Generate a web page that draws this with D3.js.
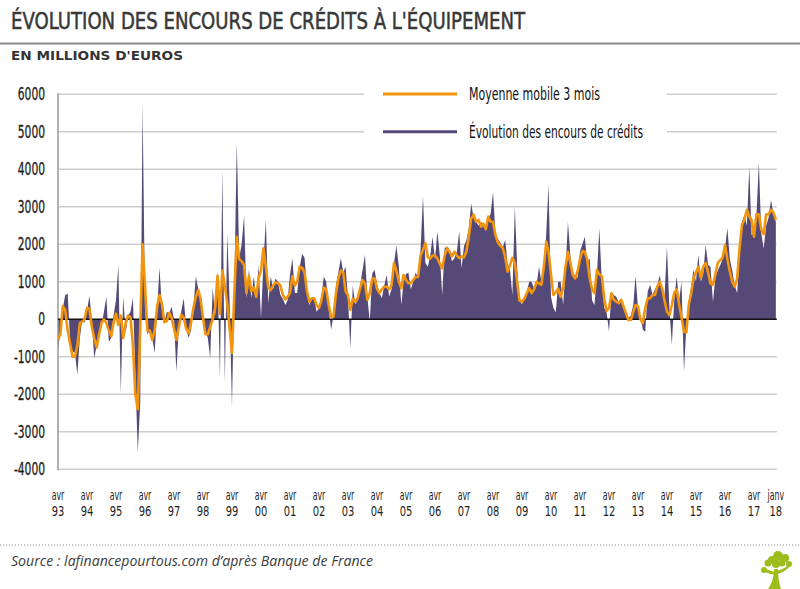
<!DOCTYPE html>
<html>
<head>
<meta charset="utf-8">
<script src="https://cdn.jsdelivr.net/npm/d3@7"></script>
<style>
  body { margin: 0; background: #fff; }
  svg { display: block; font-family: "DejaVu Sans Condensed", "Liberation Sans Narrow", sans-serif; }
</style>
</head>
<body>
<div id="chart"></div>
<script>
// Variation mensuelle des encours (millions d'euros), avr 93 -> janv 18
const encours = [
    -850, -300, 300, 650, 680, -600, -850, -900, -1480, -500, 0, -100,       // 93
    200, 630, 0, -1040, -700, -350, -150, 200, 600, -600, -500, 100,          // 94
    500, 1450, -1970, 600, -370, 100, 200, 560, -1500, -3550, -2200, 5760,    // 95
    300, -400, -300, -500, -900, 300, 1380, 200, -100, 200, 150, 340,         // 96
    0, -1400, -200, 200, 560, -200, -500, -300, 300, 1140, 800, 560,          // 97
    0, -300, -500, -1040, 850, 100, 1300, -1570, 4000, -1700, 2290, 560,      // 98
    -2330, 900, 4720, 1630, 2000, 2760, 560, 1330, 560, 1140, 560, 1450,      // 99
    30, 1500, 2650, 430, 1150, 800, 1090, 1000, 650, 550, 380, 500,           // 00
    1180, 1630, 700, 700, 1400, 1740, 1650, 800, 380, 560, 560, 200,          // 01
    300, 600, 1140, 1000, 300, -280, 100, 900, 1250, 1630, 1250, 1400,        // 02
    600, -770, 900, 400, 500, 900, 1300, 1720, 600, -50, 1230, 1320,          // 03
    950, 700, 560, 900, 1180, 600, 800, 1500, 1960, 1400, 380, 1000,         // 04
    1200, 1250, 800, 1000, 1250, 1100, 1850, 3290, 1500, 1400, 1700, 2200,    // 05
    1600, 2340, 1700, 650, 1900, 1940, 1800, 1550, 1620, 1800, 2340, 1360,    // 06
    1950, 2100, 2430, 3090, 2700, 2600, 2500, 2600, 2500, 2450, 2700, 2800,   // 07
    3390, 2300, 2150, 2050, 1900, 2120, 1500, 1300, 650, 3000, 1300, 500,     // 08
    400, 600, 750, 1000, 1000, 800, 900, 1400, 1000, 1300, 2300, 3600,        // 09
    600, 300, 190, 1000, 1000, 380, 1300, 2600, 1700, 1200, 1180, 1100,       // 10
    1800, 2000, 2200, 1500, 1630, 500, 380, 1200, 2430, 1000, 300, 200,       // 11
    -330, 740, 640, 600, 450, 560, 380, 200, 30, 100, 380, 1160,              // 12
    300, 100, -280, -330, 740, 920, 650, 800, 920, 1180, 700, 600,            // 13
    1940, 300, -680, 500, 1140, 500, 1000, -1400, -200, 500, 900, 1320,       // 14
    1000, 1720, 1000, 1200, 1980, 1450, 1400, 470, 1100, 1300, 1450, 1600,    // 15
    1900, 2430, 1600, 1300, 900, 700, 1700, 2600, 2780, 2500, 4070, 2250,     // 16
    2300, 2700, 4190, 2300, 1890, 2500, 2700, 3180, 2800, 2600                // 17
]

// Moyenne mobile 3 mois
const moyenne = [
    -520, -400, 350, 250, -300, -650, -1000, -1000, -700, -100, -60, 0,
    300, 280, -200, -500, -750, -400, -100, 0, -100, -300, -450, -100,
    150, -150, 100, -500, -100, 100, 50, -700, -2000, -2400, -200, 2000,
    900, -300, -300, -550, -300, 350, 650, 400, -80, -50, 170, 50,
    -250, -550, -200, 120, 50, -250, -370, -100, 300, 600, 780, 550,
    50, -400, -400, -200, 0, 300, 1160, 150, 1300, 900, 400, -200,
    -900, 700, 2200, 1600, 1550, 1450, 700, 1150, 750, 850, 600, 1100,
    1300, 1890, 1400, 850, 780, 900, 980, 960, 900, 650, 530, 600,
    700, 1150, 900, 1000, 1400, 1370, 1250, 750, 470, 560, 560, 380,
    300, 500, 850, 800, 380, 70, 70, 700, 1090, 1300, 1250, 750,
    650, 250, 550, 470, 560, 820, 1050, 950, 520, 700, 1090, 1090,
    810, 700, 800, 870, 870, 800, 900, 1500, 1300, 1000, 830, 1180,
    1050, 960, 960, 1050, 1130, 1130, 1700, 1850, 2030, 1650, 1620, 1700,
    1700, 1620, 1480, 1360, 1700, 1900, 1800, 1680, 1800, 1700, 1630, 1680,
    1650, 1800, 2200, 2690, 2790, 2600, 2650, 2470, 2550, 2400, 2740, 2600,
    2600, 2250, 2050, 1960, 1900, 1670, 1270, 1450, 1640, 1500, 950, 500,
    470, 550, 700, 830, 700, 800, 1000, 950, 920, 1400, 2070, 1800,
    1200, 650, 720, 820, 600, 830, 1400, 1800, 1500, 1180, 1090, 1270,
    1600, 1820, 1800, 1600, 1100, 800, 700, 1320, 1200, 1150, 550, 220,
    300, 690, 520, 470, 430, 520, 340, 160, -20, -20, 200, 380,
    350, 0, -100, 300, 560, 560, 650, 650, 870, 1000, 800, 500,
    200, 115, 380, 700, 800, 400, 50, -330, -350, 400, 700, 1100,
    1250, 1400, 1100, 1400, 1500, 1250, 950, 920, 1200, 1500, 1580, 1640,
    1980, 1600, 1270, 1000, 870, 1100, 1900, 2520, 2650, 2920, 2740, 2650,
    2200, 2800, 2800, 2400, 2270, 2800, 2800, 2920, 2850, 2650
]

const yTicks = [-4000, -3000, -2000, -1000, 0, 1000, 2000, 3000, 4000, 5000, 6000]
const yearLabels = ["93", "94", "95", "96", "97", "98", "99", "00", "01", "02", "03", "04",
    "05", "06", "07", "08", "09", "10", "11", "12", "13", "14", "15", "16", "17"]
const lastLabel = ["janv", "18"]

const width = 800
const height = 589
const purple = "#554978"
const orange = "#f2950c"

const firstMonth = new Date(1993, 3, 1)
const months = encours.map((d, i) => d3.timeMonth.offset(firstMonth, i))

const x = d3.scaleTime()
    .domain([new Date(1993, 3, 1), new Date(2017, 3, 1)])
    .range([58, 754])
const y = d3.scaleLinear()
    .domain([-4000, 6000])
    .range([469.3, 94.3])

const svg = d3.select("#chart").append("svg")
    .attr("width", width)
    .attr("height", height)

// titre
svg.append("text")
    .attr("x", 11).attr("y", 28.5)
    .attr("font-size", 22.5)
    .attr("fill", "#383838")
    .attr("stroke", "#383838")
    .attr("stroke-width", 0.5)
    .attr("textLength", 514)
    .attr("lengthAdjust", "spacingAndGlyphs")
    .text("ÉVOLUTION DES ENCOURS DE CRÉDITS À L'ÉQUIPEMENT")

svg.append("line")
    .attr("x1", 0).attr("x2", width)
    .attr("y1", 43.5).attr("y2", 43.5)
    .attr("stroke", "#8c8c8c")
    .attr("stroke-width", 2)

svg.append("text")
    .attr("x", 11).attr("y", 60)
    .attr("font-size", 11.5)
    .attr("font-weight", "bold")
    .attr("fill", "#333")
    .attr("textLength", 172)
    .attr("lengthAdjust", "spacingAndGlyphs")
    .text("EN MILLIONS D'EUROS")

// grille
const xEnd = x(months[months.length - 1])
svg.append("g")
    .selectAll("line")
    .data(yTicks.filter(d => d !== 0))
    .join("line")
    .attr("x1", 58).attr("x2", xEnd + 1)
    .attr("y1", d => y(d)).attr("y2", d => y(d))
    .attr("stroke", "#cdcdcd")
    .attr("stroke-width", 1.5)

// libellés axe y
svg.append("g")
    .selectAll("text")
    .data(yTicks)
    .join("text")
    .attr("transform", d => `translate(45,${y(d) + 6}) scale(0.7,1)`)
    .attr("text-anchor", "end")
    .attr("font-size", 17)
    .attr("fill", "#1e1e1e")
    .attr("stroke", "#1e1e1e")
    .attr("stroke-width", 0.3)
    .text(d => d)

// aire des encours
const area = d3.area()
    .x((d, i) => x(months[i]))
    .y0(y(0))
    .y1(d => y(d))
svg.append("path")
    .datum(encours)
    .attr("fill", purple)
    .attr("d", area)

// axe y et ligne du zéro
svg.append("line")
    .attr("x1", 58).attr("x2", 58)
    .attr("y1", y(6000) - 1).attr("y2", y(-4000) + 1)
    .attr("stroke", "#9a9a9a")
    .attr("stroke-width", 1.5)
svg.append("line")
    .attr("x1", 58).attr("x2", xEnd + 1)
    .attr("y1", y(0)).attr("y2", y(0))
    .attr("stroke", "#111")
    .attr("stroke-width", 1.5)

// moyenne mobile
const line = d3.line()
    .x((d, i) => x(months[i]))
    .y(d => y(d))
svg.append("path")
    .datum(moyenne)
    .attr("fill", "none")
    .attr("stroke", orange)
    .attr("stroke-width", 2.6)
    .attr("stroke-linejoin", "round")
    .attr("d", line)

// libellés axe x
const xLabels = yearLabels.map((yr, i) => ({ top: "avr", bottom: yr, date: d3.timeYear.offset(firstMonth, i) }))
xLabels.push({ top: lastLabel[0], bottom: lastLabel[1], date: months[months.length - 1] })
const xl = svg.append("g")
    .attr("fill", "#1e1e1e")
    .selectAll("g")
    .data(xLabels)
    .join("g")
    .attr("transform", d => `translate(${x(d.date)},0)`)
xl.append("text")
    .attr("transform", "translate(0,500) scale(0.6,1)")
    .attr("text-anchor", "middle")
    .attr("font-size", 14.5)
    .text(d => d.top)
xl.append("text")
    .attr("transform", "translate(0,516.2) scale(0.82,1)")
    .attr("text-anchor", "middle")
    .attr("font-size", 13.5)
    .text(d => d.bottom)

// légende
const legend = svg.append("g")
legend.append("rect")
    .attr("x", 364).attr("y", 84)
    .attr("width", 303).attr("height", 60)
    .attr("fill", "#fff")
const legendItems = [
    { label: "Moyenne mobile 3 mois", color: orange, y: 94, w: 131 },
    { label: "Évolution des encours de crédits", color: purple, y: 131.7, w: 174 }
]
legendItems.forEach(item => {
    legend.append("line")
        .attr("x1", 383).attr("x2", 457)
        .attr("y1", item.y).attr("y2", item.y)
        .attr("stroke", item.color)
        .attr("stroke-width", 3)
    legend.append("text")
        .attr("x", 469).attr("y", item.y + 6)
        .attr("font-size", 17)
        .attr("fill", "#111")
        .attr("textLength", item.w)
        .attr("lengthAdjust", "spacingAndGlyphs")
        .text(item.label)
})

// pied de page
svg.append("line")
    .attr("x1", 0).attr("x2", width)
    .attr("y1", 545).attr("y2", 545)
    .attr("stroke", "#888")
    .attr("stroke-width", 1.2)
    .attr("stroke-dasharray", "1,2")
svg.append("text")
    .attr("x", 11).attr("y", 566)
    .attr("font-family", "'Open Sans', 'DejaVu Sans', sans-serif")
    .attr("font-style", "italic")
    .attr("font-size", 14)
    .attr("fill", "#3c3c3c")
    .attr("textLength", 362)
    .attr("lengthAdjust", "spacingAndGlyphs")
    .text("Source : lafinancepourtous.com d’après Banque de France")

// logo (arbre)
const tree = svg.append("g").attr("fill", "#9dbd1c")
tree.append("path")
    .attr("d", "M768,589 C772,583 774,577 774,569 L778,569 C778,577 779,583 781,589 Z")
tree.append("path")
    .attr("d", "M776,571 C781,570 786,568 790,563 L791,565 C787,570 782,573 777,574 Z")
tree.append("path")
    .attr("d", "M775,572 C771,571 767,570 764,567 L763,569 C766,573 770,574 775,575 Z")
const leaves = [[778, 556, 5], [772, 560, 4], [785, 558, 4], [768, 563, 3.5], [789, 564, 3], [764, 570, 3], [776, 564, 4], [782, 563, 3.5]]
tree.selectAll("circle")
    .data(leaves)
    .join("circle")
    .attr("cx", d => d[0]).attr("cy", d => d[1]).attr("r", d => d[2])
</script>
</body>
</html>
